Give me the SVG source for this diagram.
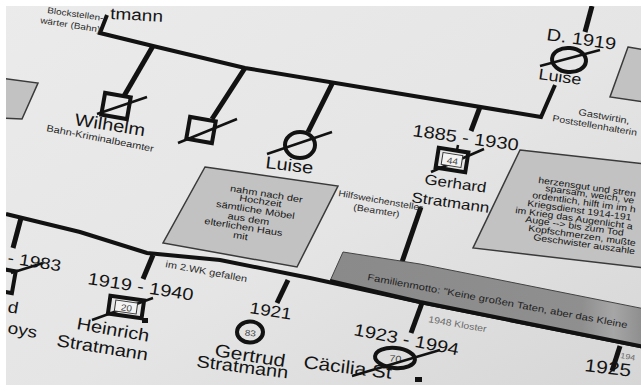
<svg xmlns="http://www.w3.org/2000/svg" width="641" height="385" viewBox="0 0 641 385">
<defs>
<linearGradient id="paper" x1="0" y1="0" x2="1" y2="1">
<stop offset="0" stop-color="#ebebeb"/>
<stop offset="0.55" stop-color="#e5e5e5"/>
<stop offset="1" stop-color="#d6d6d6"/>
</linearGradient>
<linearGradient id="fill70" x1="0" y1="0" x2="0" y2="1">
<stop offset="0" stop-color="#6e6e6e"/>
<stop offset="0.65" stop-color="#d8d8d8"/>
</linearGradient>
<linearGradient id="bandg" x1="0" y1="0" x2="1" y2="0">
<stop offset="0" stop-color="#8a8a8a"/>
<stop offset="0.8" stop-color="#8f8f8f"/>
<stop offset="0.9" stop-color="#a6a6a6"/>
<stop offset="1" stop-color="#8c8c8c"/>
</linearGradient>
</defs>
<style>
text{font-family:"Liberation Sans",Arial,sans-serif;fill:#141414}
.big{font-size:20px}
.mid{font-size:17px}
.sm{font-size:11px;fill:#2a2a2a}
.xs{font-size:10px;fill:#2a2a2a}
.note{font-size:11px;fill:#222}
.faint{font-size:10.5px;fill:#6a6a6a}
.num{font-size:10px;fill:#444;text-anchor:middle}
.line{fill:none;stroke:#121212;stroke-width:4;stroke-linejoin:miter}
.drop{fill:none;stroke:#121212;stroke-width:5}
.sym{fill:none;stroke:#121212;stroke-width:4}
.inner{fill:#f3f3f3;stroke:#333;stroke-width:1}
.slash{stroke:#121212;stroke-width:2.5;fill:none}
.box{fill:#c2c2c2;stroke:#3a3a3a;stroke-width:1.5}
.c{text-anchor:middle}
</style>
<rect width="641" height="385" fill="url(#paper)"/>

<!-- background note boxes -->
<g id="note-left"><polygon class="box" points="0,78 38,83 22,119 0,118"/></g>
<g id="note-topright"><polygon class="box" points="628,47 645,50 645,102 610,97"/></g>
<g id="note-luise">
<polygon class="box" points="205,167 338,186 297,267 163,243"/>
<g class="note c">
<text transform="translate(266,197) rotate(9) scale(1 .82)">nahm nach der</text>
<text transform="translate(260,204) rotate(9) scale(1 .82)">Hochzeit</text>
<text transform="translate(255,213) rotate(9) scale(1 .82)">sämtliche Möbel</text>
<text transform="translate(248,222) rotate(9) scale(1 .82)">aus dem</text>
<text transform="translate(243,230) rotate(9) scale(1 .82)">elterlichen Haus</text>
<text transform="translate(240,239) rotate(9) scale(1 .82)">mit</text>
</g>
</g>
<g id="note-gerhard">
<polygon class="box" points="520,150 645,164 645,268 473,248"/>
<g class="note" style="font-size:10.5px">
<text transform="translate(538,183) rotate(8) scale(1 .85)">herzensgut und stren</text>
<text transform="translate(545,191) rotate(8) scale(1 .85)">sparsam, weich, ve</text>
<text transform="translate(532,198) rotate(8) scale(1 .85)">ordentlich, hilft im im h</text>
<text transform="translate(527,206) rotate(8) scale(1 .85)">Kriegsdienst 1914-191</text>
<text transform="translate(515,213) rotate(8) scale(1 .85)">im Krieg das Augenlicht a</text>
<text transform="translate(525,222) rotate(8) scale(1 .85)">Auge --&gt; bis zum Tod</text>
<text transform="translate(528,231) rotate(8) scale(1 .85)">Kopfschmerzen, mußte</text>
<text transform="translate(533,240) rotate(8) scale(1 .85)">Geschwister auszahle</text>
</g>
</g>

<!-- connectors -->
<g id="connectors">
<polyline class="line" points="107,15 100,33 153,46 245,68 420,97 541,117 555,85"/>
<line class="drop" x1="592" y1="6" x2="585" y2="32"/>
<line class="drop" x1="153" y1="46" x2="124" y2="96"/>
<line class="drop" x1="245" y1="68" x2="212" y2="119"/>
<line class="drop" x1="333" y1="82" x2="308" y2="132"/>
<line class="drop" x1="480" y1="107" x2="471" y2="131"/>
<line class="drop" x1="421" y1="207" x2="402" y2="262"/>
<polyline class="line" points="6,214 80,232 147,253 220,260 310,278 420,302 645,347"/>
<line class="drop" x1="21" y1="218" x2="13" y2="248"/>
<line class="drop" x1="153" y1="255" x2="143" y2="279"/>
<line class="drop" x1="288" y1="280" x2="277" y2="303"/>
<line class="drop" x1="422" y1="303" x2="411" y2="333"/>
<line class="drop" x1="620" y1="346" x2="612" y2="371"/>
</g>

<!-- family motto band -->
<g id="motto">
<polygon points="343,252 420,264 645,309 645,347 420,302 330,281" fill="url(#bandg)" stroke="#444" stroke-width="1"/>
<polyline class="line" points="330,281 420,302 645,347"/>
<text class="sm" style="font-size:11.3px;fill:#1e1e1e" transform="translate(367,280) rotate(10.5) scale(1 .82)">Familienmotto: "Keine großen Taten, aber das Kleine</text>
</g>

<!-- top generation -->
<g id="node-top">
<text class="big" style="font-size:19px" transform="translate(110,19) rotate(3) scale(1 .85)">tmann</text>
<text class="xs" transform="translate(47,13) rotate(8) scale(1 .85)">Blockstellen-</text>
<text class="xs" transform="translate(40,23) rotate(9) scale(1 .85)">wärter (Bahn)</text>
</g>

<g id="node-wilhelm">
<rect class="sym" x="-13" y="-11" width="26" height="22" transform="translate(116,106) rotate(10)"/>
<line class="slash" x1="97" y1="114" x2="147" y2="97"/>
<text class="big" transform="translate(74,125) rotate(9) scale(1 .85)">Wilhelm</text>
<text class="sm" transform="translate(46,131) rotate(11) scale(1 .85)">Bahn-Kriminalbeamter</text>
</g>

<g id="node-brother2">
<rect class="sym" x="-13" y="-11" width="26" height="22" transform="translate(201,130) rotate(10)"/>
<line class="slash" x1="178" y1="143" x2="237" y2="119"/>
</g>

<g id="node-luise1">
<ellipse class="sym" cx="300" cy="145" rx="15" ry="13"/>
<line class="slash" x1="267" y1="154" x2="332" y2="132"/>
<text class="big" transform="translate(265,168) rotate(7) scale(1 .85)">Luise</text>
</g>

<g id="node-gerhard">
<text class="big" transform="translate(412,136) rotate(8) scale(1 .85)">1885 - 1930</text>
<line class="slash" x1="431" y1="172" x2="484" y2="149"/>
<rect class="sym" x="-15" y="-10" width="30" height="20" fill="#f1f1f1" transform="translate(452,160) rotate(9)"/>
<rect class="inner" x="-10" y="-6" width="20" height="12" transform="translate(452,160) rotate(9)"/>
<text class="num" transform="translate(452,164) rotate(9) scale(1 .9)">44</text>
<line class="slash" x1="458" y1="145" x2="457" y2="150"/>
<text class="mid" transform="translate(424,184) rotate(8) scale(1 .85)">Gerhard</text>
<text class="mid" transform="translate(411,202) rotate(8) scale(1 .85)">Stratmann</text>
<text class="sm" style="font-size:10.3px" transform="translate(338,196) rotate(10) scale(1 .85)">Hilfsweichensteller</text>
<text class="sm" style="font-size:10.5px" transform="translate(353,210) rotate(9) scale(1 .85)">(Beamter)</text>
</g>

<g id="node-luise2">
<text class="big" transform="translate(546,40) rotate(8) scale(1 .85)">D. 1919</text>
<ellipse class="sym" cx="569" cy="60" rx="17" ry="12" transform="rotate(5 569 60)"/>
<line class="slash" x1="540" y1="66" x2="600" y2="50"/>
<text class="big" style="font-size:18px" transform="translate(538,79) rotate(8) scale(1 .85)">Luise</text>
<text class="sm" transform="translate(578,115) rotate(10) scale(1 .85)">Gastwirtin,</text>
<text class="sm" style="font-size:10.5px" transform="translate(552,121) rotate(10) scale(1 .85)">Poststellenhalterin</text>
</g>

<!-- children generation -->
<g id="node-child1">
<rect class="sym" x="-13" y="-11" width="26" height="22" transform="translate(1,280) rotate(10)"/>
<line class="slash" x1="11" y1="273" x2="43" y2="263"/>
<text class="big" style="font-size:19px" transform="translate(7,263) rotate(9) scale(1 .85)">- 1983</text>
<text class="big" style="font-size:19px" transform="translate(7,312) rotate(10) scale(1 .85)">d</text>
<text class="big" style="font-size:19px" transform="translate(7,333) rotate(10) scale(1 .85)">oys</text>
</g>

<g id="node-heinrich">
<text class="sm" transform="translate(165,267) rotate(10.5) scale(1 .85)">im 2.WK gefallen</text>
<text class="big" transform="translate(87,284) rotate(9) scale(1 .85)">1919 - 1940</text>
<line class="slash" x1="92" y1="320" x2="153" y2="298"/>
<rect class="sym" x="-17" y="-9" width="34" height="18" fill="#f1f1f1" transform="translate(126,307) rotate(8)"/>
<rect class="inner" x="-11" y="-5.5" width="22" height="11" transform="translate(126,307) rotate(8)"/>
<text class="num" transform="translate(126,311) rotate(8) scale(1 .9)">20</text>
<rect x="142" y="318" width="6" height="5" fill="#121212"/>
<text class="big" transform="translate(76,329) rotate(10) scale(1 .85)">Heinrich</text>
<text class="big" transform="translate(56,346) rotate(9) scale(1 .85)">Stratmann</text>
</g>

<g id="node-gertrud">
<text class="big" style="font-size:19px" transform="translate(249,313) rotate(9) scale(1 .85)">1921</text>
<ellipse class="sym" cx="250" cy="332" rx="13" ry="10.5"/>
<text class="num" transform="translate(250,336) rotate(6) scale(1 .85)">83</text>
<text class="big" style="font-size:21px" transform="translate(214,356) rotate(9) scale(1 .85)">Gertrud</text>
<text class="big" transform="translate(196,367) rotate(7) scale(1 .85)">Stratmann</text>
</g>

<g id="node-caecilia">
<text class="big" transform="translate(353,335) rotate(11) scale(1 .85)">1923 - 1994</text>
<text class="faint" transform="translate(428,322) rotate(10) scale(1 .85)">1948 Kloster</text>
<text class="big" style="font-size:21px" transform="translate(303,368) rotate(7) scale(1 .85)">Cäcilia St</text>
<ellipse class="sym" cx="395" cy="358" rx="20" ry="10" fill="url(#fill70)" transform="rotate(5 395 358)"/>
<text class="num" style="font-size:11px" transform="translate(395,362) rotate(6) scale(1 .85)">70</text>
<line class="slash" x1="352" y1="376" x2="440" y2="350"/>
<rect x="415" y="377" width="7" height="5" fill="#121212"/>
</g>

<g id="node-child5">
<text class="faint" style="font-size:9px" transform="translate(620,358) rotate(10) scale(1 .85)">194</text>
<text class="big" style="font-size:21px" transform="translate(584,371) rotate(7) scale(1 .85)">1925</text>
</g>

<!-- photo margin -->
<rect x="0" y="0" width="641" height="6" fill="#ffffff"/>
<rect x="0" y="0" width="6" height="385" fill="#ffffff"/>
</svg>
